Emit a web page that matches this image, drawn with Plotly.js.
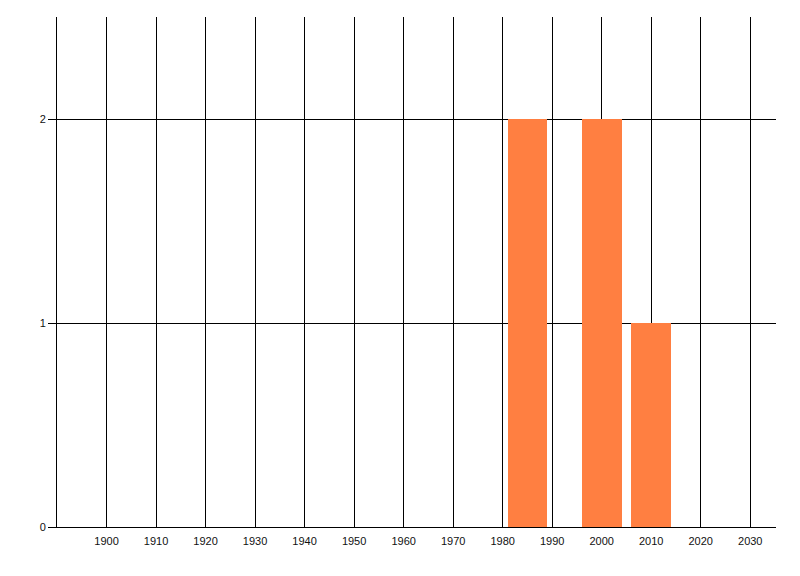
<!DOCTYPE html>
<html>
<head>
<meta charset="utf-8">
<script src="https://cdn.plot.ly/plotly-3.0.1.min.js"></script>
<style>html,body{margin:0;padding:0;background:#fff;}#chart{width:800px;height:576px;}</style>
</head>
<body>
<div id="chart"></div>
<script>
const years = [1985, 2000, 2010];
const counts = [2, 2, 1];
const barWidths = [8, 8, 8];
const xTickValues = [1900, 1910, 1920, 1930, 1940, 1950, 1960, 1970, 1980, 1990, 2000, 2010, 2020, 2030];
const yTickValues = [0, 1, 2];

const trace = {
  type: 'bar',
  x: years,
  y: counts,
  width: barWidths,
  marker: {color: '#ff7f41', line: {width: 0}},
  hoverinfo: 'x+y'
};

const layout = {
  width: 800,
  height: 576,
  margin: {l: 57, r: 24, t: 17, b: 49, pad: 0},
  paper_bgcolor: '#ffffff',
  plot_bgcolor: '#ffffff',
  showlegend: false,
  font: {family: 'Liberation Sans, Arial, sans-serif', size: 11, color: '#111'},
  xaxis: {
    range: [1890, 2035.2],
    tickmode: 'array',
    tickvals: xTickValues,
    ticktext: xTickValues.map(String),
    showgrid: true,
    gridcolor: '#000',
    gridwidth: 1,
    showline: true,
    linecolor: '#000',
    linewidth: 1,
    ticks: '',
    zeroline: false,
    fixedrange: true,
    ticklabelstandoff: 4
  },
  yaxis: {
    range: [0, 2.5],
    tickmode: 'array',
    tickvals: yTickValues,
    ticktext: yTickValues.map(String),
    showgrid: true,
    gridcolor: '#000',
    gridwidth: 1,
    showline: true,
    linecolor: '#000',
    linewidth: 1,
    ticks: 'outside',
    ticklen: 8,
    tickcolor: '#000',
    tickwidth: 1,
    zeroline: false,
    fixedrange: true
  },
  bargap: 0
};

Plotly.newPlot('chart', [trace], layout, {displayModeBar: false, staticPlot: true});
</script>
</body>
</html>
